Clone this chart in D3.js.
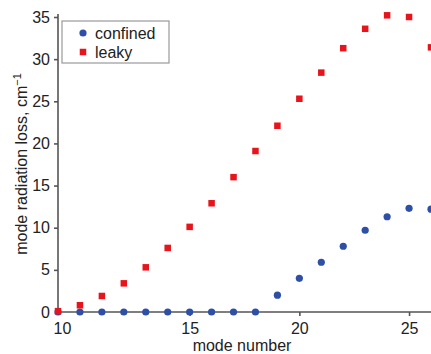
<!DOCTYPE html>
<html>
<head>
<meta charset="utf-8">
<script src="https://cdn.jsdelivr.net/npm/d3@7"></script>
<style>
  body { margin: 0; background: #fff; }
  svg { display: block; font-family: "Liberation Sans", Arial, sans-serif; }
  .axis path, .axis line { stroke: #555; stroke-width: 1.6; }
  .axis text { font-size: 16px; fill: #222; }
</style>
</head>
<body>
<div id="chart"></div>
<script>
// mode numbers (the source figure labels its axis origin "10")
const modes = [9, 10, 11, 12, 13, 14, 15, 16, 17, 18, 19, 20, 21, 22, 23, 24, 25, 26];
const confined = [0, 0, 0, 0, 0, 0, 0, 0, 0, 0, 2.0, 4.0, 5.9, 7.8, 9.7, 11.3, 12.3, 12.2];
const leaky = [0.1, 0.8, 1.9, 3.4, 5.3, 7.6, 10.1, 12.9, 16.0, 19.1, 22.1, 25.3, 28.4, 31.3, 33.6, 35.2, 35.0, 31.4];
const xTicks = [9, 15, 20, 25];
const yTicks = [0, 5, 10, 15, 20, 25, 30, 35];

const width = 431, height = 354;
const svg = d3.select("#chart").append("svg")
    .attr("width", width)
    .attr("height", height);

const x = d3.scaleLinear().domain([9, 26]).range([58, 431]);
const y = d3.scaleLinear().domain([0, 35]).range([312, 17]);

// Axes
svg.append("g")
    .attr("class", "axis")
    .attr("transform", `translate(0,${y(0)})`)
    .call(d3.axisBottom(x).tickValues(xTicks).tickSize(4).tickSizeOuter(0)
        .tickFormat(d => d === 9 ? "10" : d))
    .call(g => g.select(".domain").attr("d", `M${x(9)},0H${width}`))
    .call(g => g.selectAll(".tick text").attr("dy", "0.95em"))
    .call(g => g.selectAll(".tick").filter(d => d === 9)
        .call(t => t.select("line").remove())
        .select("text").attr("dx", 4));

svg.append("g")
    .attr("class", "axis")
    .attr("transform", `translate(${x(9)},0)`)
    .call(d3.axisLeft(y).tickValues(yTicks).tickSize(4).tickPadding(4).tickSizeOuter(0))
    .call(g => g.select(".domain").attr("d", `M0,${y(0)}V14`))
    .call(g => g.selectAll(".tick").filter(d => d === 0).select("line").remove());

// Axis titles
svg.append("text")
    .attr("x", 242).attr("y", 351)
    .attr("text-anchor", "middle")
    .attr("font-size", 16).attr("fill", "#222")
    .text("mode number");

const yTitle = svg.append("text")
    .attr("transform", `translate(27,${164}) rotate(-90)`)
    .attr("text-anchor", "middle")
    .attr("font-size", 16).attr("fill", "#222");
yTitle.append("tspan").text("mode radiation loss, cm");
yTitle.append("tspan").attr("font-size", 11).attr("dy", -6).text("\u22121");

// Points
svg.append("g").selectAll("circle")
    .data(modes.map((m, i) => [m, confined[i]]))
    .join("circle")
    .attr("cx", d => x(d[0]))
    .attr("cy", d => y(d[1]))
    .attr("r", 3.6)
    .attr("fill", "#2d4fa6");

const s = 6.5;
svg.append("g").selectAll("rect")
    .data(modes.map((m, i) => [m, leaky[i]]))
    .join("rect")
    .attr("x", d => x(d[0]) - s / 2)
    .attr("y", d => y(d[1]) - s / 2)
    .attr("width", s).attr("height", s)
    .attr("fill", "#e8141b");

// Legend
const legend = svg.append("g");
legend.append("rect")
    .attr("x", 62).attr("y", 21).attr("width", 107).attr("height", 42)
    .attr("fill", "#fff").attr("stroke", "#999").attr("stroke-width", 1.2);
legend.append("circle").attr("cx", 83).attr("cy", 33).attr("r", 3.6).attr("fill", "#2d4fa6");
legend.append("rect").attr("x", 83 - s / 2).attr("y", 52 - s / 2).attr("width", s).attr("height", s).attr("fill", "#e8141b");
legend.append("text").attr("x", 95).attr("y", 38.5).attr("font-size", 16).attr("fill", "#222").text("confined");
legend.append("text").attr("x", 95).attr("y", 57.5).attr("font-size", 16).attr("fill", "#222").text("leaky");
</script>
</body>
</html>
